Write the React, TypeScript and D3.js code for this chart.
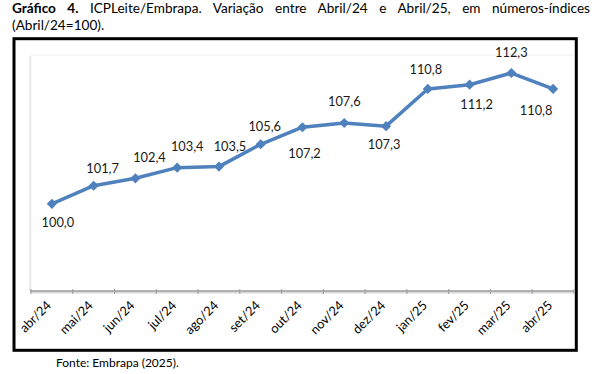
import React, { useLayoutEffect, useRef, useState } from "react";
import { scaleBand, scaleLinear, line, symbol, symbolSquare } from "d3";

const months = [
  "abr/24", "mai/24", "jun/24", "jul/24", "ago/24", "set/24", "out/24",
  "nov/24", "dez/24", "jan/25", "fev/25", "mar/25", "abr/25",
];
const values = [100.0, 101.7, 102.4, 103.4, 103.5, 105.6, 107.2, 107.6, 107.3, 110.8, 111.2, 112.3, 110.8];
const yDomain = [91.8, 113.9];

// where each data label was placed (hand moved in the original)
const labelDx = [6, 9, 14, 10, 11, 4, 2, 0, -2, -2, 7, 0, -17];
const labelDy = [23, -13, -16, -17, -16, -13, 31, -17, 23, -15, 24, -16, 26];

const titleBold = "Gráfico 4.";
const titleRest = " ICPLeite/Embrapa. Variação entre Abril/24 e Abril/25, em números-índices";
const titleLine2 = "(Abril/24=100).";
const sourceText = "Fonte: Embrapa (2025).";

const W = 602;
const H = 374;
const font = "Lato, 'Open Sans', sans-serif";
const blue = "#4f81bd";

function fmt(v: number) {
  return v.toFixed(1).replace(".", ",");
}

export default function App() {
  const plot = { left: 31, right: 574, top: 56, bottom: 291 };
  const x = scaleBand<string>().domain(months).range([plot.left, plot.right]).padding(0);
  const y = scaleLinear().domain(yDomain).range([plot.bottom, plot.top]);
  const cx = (m: string) => (x(m) as number) + x.bandwidth() / 2;

  const path = line<number>()
    .x((d, i) => cx(months[i]))
    .y((d) => y(d))(values);
  const diamond = symbol().type(symbolSquare).size(52)() as string;

  // justify first title line between the frame edges
  const titleRef = useRef<SVGTextElement>(null);
  const [wordSpacing, setWordSpacing] = useState(0);
  useLayoutEffect(() => {
    const el = titleRef.current;
    if (!el) return;
    const natural = el.getComputedTextLength();
    const gaps = (titleBold + titleRest).split(" ").length - 1;
    const target = 590 - 12;
    setWordSpacing((target - natural) / gaps);
  }, []);

  const tickPos = months.map((m) => x(m) as number).concat([plot.right]);

  return (
    <svg
      width={W}
      height={H}
      style={{ position: "absolute", left: 0, top: 0, background: "white" }}
      fontFamily={font}
    >
      <text
        ref={titleRef}
        x={12}
        y={13}
        fontSize={13.6}
        fill="#000"
        style={{ wordSpacing: wordSpacing + "px" }}
      >
        <tspan fontWeight="bold">{titleBold}</tspan>
        {titleRest}
      </text>
      <text x={12} y={29.5} fontSize={13.6} fill="#000">
        {titleLine2}
      </text>

      <rect x={14} y={38.7} width={562.3} height={311.6} fill="white" stroke="#000" strokeWidth={3} />

      {/* plot area edges */}
      <line x1={plot.left} x2={plot.right} y1={plot.top - 1} y2={plot.top - 1} stroke="#f0f0f0" />
      <line x1={plot.left - 1} x2={plot.left - 1} y1={plot.top} y2={plot.bottom} stroke="#d9d9d9" />
      <line x1={plot.left} x2={plot.left} y1={plot.top} y2={plot.bottom} stroke="#f0f0f0" />

      {/* x axis */}
      <line x1={plot.left} x2={plot.right} y1={plot.bottom + 1.5} y2={plot.bottom + 1.5} stroke="#d9d9d9" strokeWidth={2} />
      <line x1={plot.left - 1} x2={plot.right} y1={plot.bottom} y2={plot.bottom} stroke="#9a9a9a" strokeWidth={1.3} />
      {tickPos.map((t, i) => (
        <line key={i} x1={t} x2={t} y1={plot.bottom - 2} y2={plot.bottom + 3} stroke="#9a9a9a" strokeWidth={1} />
      ))}
      {months.map((m) => (
        <text
          key={m}
          transform={`translate(${cx(m) - 3},${plot.bottom + 12}) rotate(-45)`}
          textAnchor="end"
          dy="0.35em"
          fontSize={12.8}
          fill="#000"
        >
          {m}
        </text>
      ))}

      <path d={path || ""} fill="none" stroke={blue} strokeWidth={3.5} strokeLinejoin="round" />
      {values.map((v, i) => (
        <path
          key={i}
          d={diamond}
          transform={`translate(${cx(months[i])},${y(v)}) rotate(45)`}
          fill={blue}
        />
      ))}
      {values.map((v, i) => (
        <text
          key={"l" + i}
          x={cx(months[i]) + labelDx[i]}
          y={y(v) + labelDy[i]}
          textAnchor="middle"
          fontSize={12.8}
          fill="#1a1a1a"
        >
          {fmt(v)}
        </text>
      ))}

      <text x={56} y={367} fontSize={12} fill="#000">
        {sourceText}
      </text>
    </svg>
  );
}
